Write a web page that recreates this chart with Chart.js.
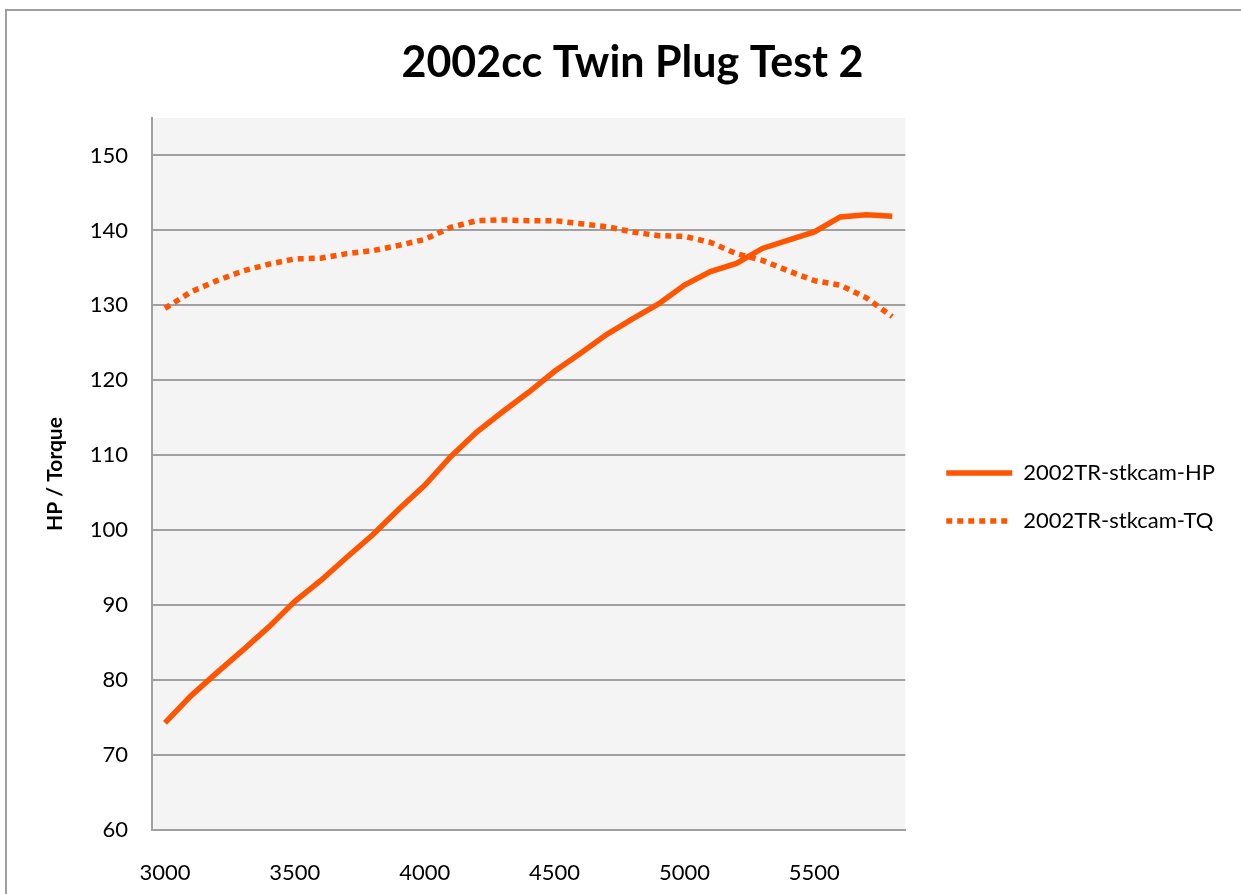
<!DOCTYPE html>
<html>
<head>
<meta charset="utf-8">
<title>2002cc Twin Plug Test 2</title>
<script src="https://cdn.jsdelivr.net/npm/chart.js@4"></script>
<style>
    body { margin: 0; background: #fff; }
    #stats { display: block; }
</style>
</head>
<body>
<canvas id="stats" width="1241" height="894"></canvas>

<script>
    // rpm steps along the bottom
    var rpm = [3000, 3100, 3200, 3300, 3400, 3500, 3600, 3700, 3800, 3900,
               4000, 4100, 4200, 4300, 4400, 4500, 4600, 4700, 4800, 4900,
               5000, 5100, 5200, 5300, 5400, 5500, 5600, 5700, 5800];

    var hp = [74.3, 77.9, 81.0, 84.0, 87.1, 90.5, 93.3, 96.4, 99.4, 102.8,
              106.0, 109.8, 113.1, 115.8, 118.4, 121.2, 123.6, 126.1, 128.2, 130.2,
              132.7, 134.5, 135.6, 137.6, 138.7, 139.8, 141.8, 142.1, 141.9];

    var tq = [129.6, 131.8, 133.3, 134.6, 135.5, 136.2, 136.3, 136.9, 137.3, 138.0,
              138.8, 140.4, 141.3, 141.4, 141.3, 141.3, 140.9, 140.5, 139.8, 139.3,
              139.2, 138.4, 136.9, 136.0, 134.6, 133.3, 132.7, 131.0, 128.5];

    var seriesNames = ['2002TR-stkcam-HP', '2002TR-stkcam-TQ'];
    var yMin = 60, yMax = 155, yStep = 10;

    var orange = '#ff5500';
    var grey = '#a0a0a0';

    // white page, grey frame and the grey plot area
    var frame = {
        id: 'frame',
        beforeDraw: function (chart) {
            var ctx = chart.ctx, a = chart.chartArea;
            ctx.save();
            ctx.fillStyle = '#fff';
            ctx.fillRect(0, 0, chart.width, chart.height);
            ctx.strokeStyle = grey;
            ctx.lineWidth = 2;
            ctx.strokeRect(6, 10, chart.width + 20, chart.height + 20);
            ctx.fillStyle = '#f4f4f4';
            ctx.fillRect(a.left, a.top, a.right - a.left, a.bottom - a.top);
            ctx.restore();
        },
        afterLayout: function (chart) {
            // excel puts the legend a bit further out and the title over the plot
            var lg = chart.legend;
            lg.left += 15; lg.right += 15;
            lg.top += 23; lg.bottom += 23;
            var t = chart.titleBlock;
            t.left += 29; t.right += 29;
        }
    };

    var ctx = document.getElementById('stats').getContext('2d');
    new Chart(ctx, {
        type: 'line',
        data: {
            labels: rpm,
            datasets: [{
                label: seriesNames[0],
                data: hp,
                borderColor: orange,
                backgroundColor: orange,
                borderWidth: 5.5,
                pointRadius: 0,
                tension: 0
            }, {
                label: seriesNames[1],
                data: tq,
                borderColor: orange,
                backgroundColor: orange,
                borderWidth: 5.5,
                borderDash: [6, 5],
                pointRadius: 0,
                tension: 0
            }]
        },
        options: {
            responsive: false,
            animation: false,
            layout: { padding: { left: 0, right: 34, top: 0, bottom: 0 } },
            plugins: {
                title: {
                    display: true,
                    text: '2002cc Twin Plug Test 2',
                    color: '#000',
                    font: { family: 'Lato', size: 43, weight: 'bold' },
                    padding: { top: 37, bottom: 29.4 }
                },
                legend: {
                    position: 'right',
                    fullSize: false,
                    labels: {
                        usePointStyle: true,
                        pointStyle: 'line',
                        pointStyleWidth: 66,
                        padding: 26,
                        color: '#000',
                        font: { family: 'Lato', size: 22 },
                        generateLabels: function (chart) {
                            var items = Chart.defaults.plugins.legend.labels.generateLabels(chart);
                            items.forEach(function (it) {
                                var ds = chart.data.datasets[it.datasetIndex];
                                it.lineDash = ds.borderDash || [];
                                it.lineWidth = ds.borderWidth;
                                it.strokeStyle = ds.borderColor;
                            });
                            return items;
                        }
                    }
                },
                tooltip: { enabled: false }
            },
            scales: {
                x: {
                    type: 'category',
                    offset: true,
                    grid: { display: false, drawTicks: false, offset: true },
                    border: { color: grey, width: 2 },
                    ticks: {
                        autoSkip: false,
                        maxRotation: 0,
                        padding: 30,
                        color: '#000',
                        font: { family: 'Lato', size: 22 },
                        callback: function (v, i) {
                            var r = rpm[i];
                            return r % 500 === 0 ? String(r) : '';
                        }
                    },
                    afterFit: function (s) { s.height = 64; }
                },
                y: {
                    min: yMin,
                    max: yMax,
                    grid: { color: grey, lineWidth: 2, drawTicks: false },
                    border: { color: grey, width: 2 },
                    ticks: {
                        stepSize: yStep,
                        includeBounds: false,
                        padding: 24,
                        color: '#000',
                        font: { family: 'Lato', size: 22 }
                    },
                    title: {
                        display: true,
                        text: 'HP / Torque',
                        color: '#000',
                        font: { family: 'Lato', size: 21, weight: 'bold' },
                        padding: { top: 43, bottom: 0 }
                    },
                    afterFit: function (s) { s.width = 152; }
                }
            }
        },
        plugins: [frame]
    });
</script>
</body>
</html>
